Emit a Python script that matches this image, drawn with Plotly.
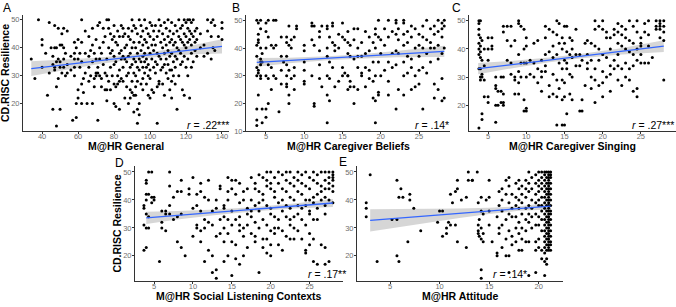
import plotly.graph_objects as go

# ---------------- data ----------------
A_GROUPS = [(34,[36]),(36,[29]),(38,[50]),(40,[43,41,33]),(42,[38]),(43,[23]),(44,[49,31]),(45,[40]),
 (46,[18,37,34]),(47,[48,40,33,32]),(48,[12,40,35,26]),(49,[47,36,29]),(50,[18,41,35,33]),(51,[45,41,31]),
 (52,[47,40,36,33]),(53,[38,30]),(54,[46,34,31]),(56,[37,32]),(57,[14]),(58,[42,38,36,33,30]),(59,[40,20,15]),
 (60,[43,36,25,22]),(61,[38,33]),(62,[50,42,35,20,27]),(63,[29,24]),(64,[46,38,31]),(65,[20]),(66,[44,37,33,28]),
 (67,[39,30]),(68,[47,41,35,20]),(69,[38,29,26]),(70,[43,36,31,30]),(71,[14,48,33,31]),(72,[49,40,36,30]),
 (73,[38,29,26]),(74,[47,42,34]),(75,[44,31,25]),(76,[50,36,30,25,21]),(77,[50,47,40,28]),(78,[45,38,33,25]),
 (79,[43,39,30]),(80,[48,44,37,34,27,20]),(81,[42,35,26,19]),(82,[46,41,30,27]),(83,[44,38,32,28,18]),
 (84,[48,39,36,29]),(85,[47,44,37,33,28]),(86,[45,40,36,22]),(87,[41,35,30,26]),(88,[47,44,37,31,20]),
 (89,[43,38,33,25,22]),(90,[50,46,40,34,28,24]),(91,[48,42,36,31,23,17]),(92,[47,40,35,30,26,23]),
 (93,[45,38,33,28,18,13]),(94,[50,42,36,32,20,16]),(95,[48,44,39,35,27]),(96,[46,41,37,33,29,25]),
 (97,[50,43,38,31,35]),(98,[47,42,36,33,27]),(99,[45,40,34,30,23]),(100,[49,44,38,32,29,22]),(101,[48,41,36,25]),
 (102,[46,43,39,33,24]),(103,[48,41,35,31]),(104,[44,38,34,26,13]),(105,[50,46,37,28,27]),(106,[48,42,36,32]),
 (107,[45,40,33,27]),(108,[49,43,38,34,23]),(109,[47,41,36,31]),(110,[50,44,39,34,29]),(111,[46,42,37,32,25]),
 (112,[49,43,38,32,28,22]),(113,[45,41,35,30]),(114,[48,42,37,33,27]),(115,[46,40,36,18]),(116,[50,44,39,30]),
 (117,[47,43,38,34]),(118,[48,42,35,25]),(119,[50,45,41,37,23]),(120,[49,44,40,33]),(121,[50,47,42,36,30]),
 (122,[50,46,43,22]),(123,[49,45,41,38,33]),(124,[50,44,35]),(125,[46,42,39]),(126,[47,43,37]),(128,[45,40]),
 (130,[41,37]),(132,[50,46,38]),(134,[49,44,36]),(135,[50,40]),(136,[48,39]),(138,[44]),(140,[49,47,43])]

B_GROUPS = [(3.8,[50,41,37,33,30,18,14,12]),(4.0,[49,45,43,42,32,31,23]),(4.3,[50,47,40,36,35,34,30,29]),
 (4.5,[38,35,18,13]),(5.0,[49,46,40,30,18,15]),(5.3,[50,44,34,29,20]),(5.7,[41,33,25]),(6.0,[50,40,30]),
 (6.3,[50,41,29]),(6.7,[17]),(7.0,[44,37,32,27]),(7.3,[35]),(7.7,[44,42,37,34,30,27,26]),(8.0,[48,41,32,23,20]),
 (8.3,[43,40,29]),(8.7,[44,33,30,25]),(9.0,[48,47]),(10.0,[41,39,35,32,28,27]),(11.0,[49,48,43,30]),
 (11.3,[48,41,19,20]),(12.0,[46,44,39,34,29]),(12.3,[48,26]),(13.0,[48,47,40,37,30,23,13]),(13.3,[44,35,29,21]),
 (13.7,[49,48,42,33]),(14.0,[41,39,26]),(14.5,[45,40,28]),(15.0,[49,44,33,30]),(15.3,[43,31]),
 (15.7,[46,42,38,30,30,25]),(16.0,[41,37,28,26]),(16.5,[47,43,36,26,20]),(17.0,[47,40,37,33,25]),
 (17.5,[42,37,31,30]),(18.0,[46,38,33,26]),(18.5,[44,39,32,29]),(19.0,[42,35,28,22]),(19.3,[47,45,40,30,21,13]),
 (19.7,[50,44,35,24,23]),(20.0,[43,38,30]),(20.5,[47,41,32]),(21.0,[50,44,35,28,23]),(21.5,[46,38,33]),
 (22.0,[50,49,45,39,34,18]),(22.3,[47,43,38,25]),(23.0,[50,49,45,41,35,30,23]),(23.5,[46,42,37,31]),
 (24.0,[48,44,36,33,25]),(24.5,[47,40,30,26]),(25.0,[45,41,37,32,27]),(25.5,[48,44,40,33,18]),
 (26.0,[50,43,38,31]),(26.5,[47,42,40,35]),(27.0,[48,45,40,27,22]),(27.5,[50,46,41,36,25]),
 (28.0,[49,47,44,38,29,21]),(28.3,[50,48,40,22])]

C_GROUPS = [(3.8,[50,49,47,45,42,40,38,33,12]),(4.0,[50,44,41,39,37,33,30,29]),(4.2,[43,36,31,30,17,15]),
 (4.5,[40,34,29,23]),(5.0,[44,40,36,23,21]),(5.5,[44,41,40]),(6.0,[30,27,26,20,14]),(6.3,[25,20]),
 (6.7,[30,25,21]),(7.0,[48,46,30,24,21,20]),(7.5,[48,43,36]),(8.0,[48,41,35,31]),(8.5,[43,30,29,24]),
 (9.0,[50,49,38,32,28,24]),(9.3,[48,35,30]),(9.7,[47,40,35,22,18]),(10.0,[44,41,35,30,19,18]),(10.5,[36,31]),
 (11.0,[42,35,30]),(11.5,[43,33,28]),(12.0,[36,32,30,25]),(12.5,[48,44,38,34,32]),(13.0,[47,39,27,23]),
 (13.5,[46,41,37,31,24]),(14.0,[50,45,38,29,23,13]),(14.3,[49,42,35,26]),(14.7,[44,40,33,29,22,13]),
 (15.0,[48,42,36,28,23,13]),(15.3,[48,39,35,33,17]),(15.7,[44,38,31,24]),(16.0,[43,40,37,30,22]),
 (16.5,[47,38,34]),(17.0,[38,34,18]),(17.3,[36,22,18]),(17.7,[42,27]),(18.0,[43,38,35,33]),(18.5,[42,36,26,30]),
 (19.0,[50,47,41,33,29,21]),(19.5,[48,40,36,27]),(20.0,[50,47,38,32,28,23]),(20.5,[46,44,37,30]),
 (21.0,[44,40,34,31,25]),(21.5,[47,45,36,33]),(22.0,[49,46,42,38,34,29]),(22.5,[48,45,41,33,27]),
 (23.0,[47,44,40,35,30]),(23.5,[50,43,39,33,29]),(24.0,[48,42,38,34,25]),(24.5,[50,46,40,36,26,23]),
 (25.0,[44,42,41,38,35]),(25.5,[49,46,35]),(26.0,[50,45,41,35]),(26.5,[37]),(27.0,[50,48,47]),
 (27.5,[50,49,48,47,44]),(28.0,[50,48,46,43,29])]

D_GROUPS = [(3.7,[38,37,31,22]),(4.0,[47,46,42,40,35,30,23]),(4.3,[50,42,34,30]),(4.7,[50,41,39]),(5.0,[41,40]),
 (5.7,[18]),(6.0,[36,32,30]),(6.5,[36,35,29]),(7.0,[50,45,38,35]),(7.5,[41,33]),(8.0,[43,34,25]),
 (8.5,[47,43,35,23]),(9.0,[20]),(9.5,[44,42]),(10.0,[48,37,27]),(10.5,[42,38,31,30]),(11.0,[46,43,36,29,25]),
 (11.5,[41,33,30,18]),(12.0,[47,40,32,22]),(12.5,[36,31,20,14]),(13.0,[40,37,27,15,12]),(13.5,[45,44,33,28]),
 (14.0,[38,37,34,30,25,18]),(14.5,[48,43,40,33,28,20]),(15.0,[47,44,36,31,25,13]),(15.5,[47,42,33,24,19]),
 (16.0,[46,39,34,31,29,17]),(16.5,[43,40,30,27,20]),(17.0,[44,37,35,31,23]),(17.5,[48,40,36,34,28]),
 (18.0,[46,44,38,32,27,25]),(18.5,[49,43,39,36,30,14]),(19.0,[48,42,40,33,26,23]),(19.5,[50,47,45,38,31,26,21]),
 (20.0,[50,46,44,37,35,29,24,20]),(20.5,[48,43,41,34,30,28]),(21.0,[50,46,39,33,30,24]),
 (21.5,[49,44,40,36,29,22]),(22.0,[50,47,43,38,34,27]),(22.5,[50,46,41,37,33,31,26]),(23.0,[48,45,40,34,30,26]),
 (23.5,[50,47,43,38,35,29]),(24.0,[49,46,42,37,33,26]),(24.5,[50,45,40,38,31,21,22]),(25.0,[48,44,40,36,35,28,24]),
 (25.5,[50,47,41,39,33,26,18]),(26.0,[49,46,42,37,33,17]),(26.5,[50,45,43,40,24]),(27.0,[50,47,44,41,38,35,23,17]),
 (27.5,[50,48,46,44,40,18]),(28.0,[50,49,48,47,45,43,39])]

E_GROUPS = [(2.6,[39,37,34]),(3.0,[49]),(3.7,[18]),(5.2,[33]),(5.7,[47,33,20]),(5.9,[41,18]),(6.1,[44]),(6.3,[41]),
 (6.8,[25]),(7.0,[42,40]),(7.4,[37]),(8.1,[29]),(9.8,[32]),(10.0,[36]),(10.3,[36,27]),(10.7,[30,28]),(10.9,[32]),
 (11.1,[42,31]),(11.3,[39]),(11.6,[43,31]),(11.8,[47,44,25]),(12.2,[40]),(12.7,[41,23]),(12.9,[50,47]),
 (13.3,[47,47]),(13.8,[50]),(13.9,[39,31,29,28]),(14.0,[33,27]),(14.2,[41,36,30,26,15,12]),(14.4,[35,28,25]),
 (14.7,[40]),(15.0,[47,41,36,31]),(15.3,[25]),(15.8,[34,21,20]),(16.0,[43,38,30,28]),(16.3,[44,40,36,31,23]),
 (16.7,[47,42,33,26,20]),(17.0,[48,45,39,35,29,20,14]),(17.3,[42,37,34,27,24]),(17.7,[46,41,38,34,30,25]),
 (18.0,[47,44,40,37,32,28,22]),(18.3,[45,42,39,35,30,26,22]),(18.7,[47,44,41,37,33,29,25]),
 (19.0,[50,46,43,38,35,32,25,13]),(19.3,[48,44,40,37,34,30]),(19.7,[49,46,42,39,35,31,25,22,14]),
 (20.0,[50,47,45,43,40,38,34,31,26,23]),(20.3,[50,48,46,44,41,38,36,33,29,22,19]),
 (20.6,[50,49,47,45,43,41,39,37,35,33,31,29,27,25,23,21,18,13]),
 (20.8,[50,48,46,44,42,40,38,36,34,32,30,28,26,24,22,19,17]),
 (21.0,[50,49,48,47,46,45,44,43,42,41,40,39,38,37,36,35,34,33,32,31,30,29,28,27,26,25,24,23,22]),
 (21.2,[50,49,48,46,44,42,40,38,36,35,33,31,29,27,25,24,22])]

# fitted lines with confidence band
A_FIT_X = [34, 50, 70, 90, 110, 125, 140]
A_FIT_Y = [32.5, 33.7, 35.2, 36.7, 38.2, 39.4, 40.5]
A_HALF = [2.65, 1.9, 1.2, 0.9, 1.15, 1.7, 2.55]
B_FIT_X = [3.8, 8, 13, 17, 22, 28.3]
B_FIT_Y = [34.8, 35.5, 36.3, 36.9, 37.8, 38.8]
B_HALF = [1.6, 1.0, 0.75, 0.75, 1.1, 2.0]
C_FIT_X = [3.7, 8, 13, 17, 22, 28]
C_FIT_Y = [33.0, 34.4, 36.1, 37.4, 39.0, 41.0]
C_HALF = [2.0, 1.3, 0.85, 0.8, 1.1, 2.1]
D_FIT_X = [4, 8, 13, 18, 23, 28]
D_FIT_Y = [33.6, 34.5, 35.6, 36.7, 37.8, 38.9]
D_HALF = [2.2, 1.5, 0.95, 0.75, 0.9, 1.4]
E_FIT_X = [3, 6, 9, 12, 15, 18, 21.2]
E_FIT_Y = [32.7, 33.5, 34.4, 35.2, 36.1, 36.9, 37.8]
E_HALF = [4.0, 3.2, 2.4, 1.7, 1.1, 0.8, 1.2]

X_TITLES = ["M@HR General", "M@HR Caregiver Beliefs", "M@HR Caregiver Singing",
            "M@HR Social Listening Contexts", "M@HR Attitude"]
R_LABELS = ["<i>r</i> = .22***", "<i>r</i> = .14*", "<i>r</i> = .27***", "<i>r</i> = .17**", "<i>r</i> = .14*"]
PANEL_LETTERS = ["A", "B", "C", "D", "E"]
Y_TITLE = "CD.RISC Resilience"

# ---------------- layout geometry (pixels) ----------------
W, H = 676, 307
panels = [
    dict(groups=A_GROUPS, fx=A_FIT_X, fy=A_FIT_Y, hw=A_HALF, px=(23, 229), py=(15, 133),
         xr=[29.4, 143.9], yr=[10.1, 51.8], xt=[40, 60, 80, 100, 120, 140], yt=[20, 30, 40, 50],
         letter=(7, 0), rpos=(231, 127), ytx=5),
    dict(groups=B_GROUPS, fx=B_FIT_X, fy=B_FIT_Y, hw=B_HALF, px=(246, 450), py=(15, 133),
         xr=[2.39, 29.05], yr=[9.95, 52.0], xt=[5, 10, 15, 20, 25], yt=[10, 20, 30, 40, 50],
         letter=(236, 0), rpos=(451, 127), ytx=None),
    dict(groups=C_GROUPS, fx=C_FIT_X, fy=C_FIT_Y, hw=C_HALF, px=(469, 676), py=(15, 133),
         xr=[2.5, 29.6], yr=[10.8, 52.1], xt=[5, 10, 15, 20, 25], yt=[20, 30, 40, 50],
         letter=(456, 0), rpos=(676, 127), ytx=None),
    dict(groups=D_GROUPS, fx=D_FIT_X, fy=D_FIT_Y, hw=D_HALF, px=(135, 343), py=(168, 285),
         xr=[2.55, 29.3], yr=[10.9, 52.2], xt=[5, 10, 15, 20, 25], yt=[20, 30, 40, 50],
         letter=(119, 157), rpos=(348, 278), ytx=117),
    dict(groups=E_GROUPS, fx=E_FIT_X, fy=E_FIT_Y, hw=E_HALF, px=(357, 563), py=(168, 285),
         xr=[1.67, 22.45], yr=[10.9, 52.2], xt=[5, 10, 15, 20], yt=[20, 30, 40, 50],
         letter=(343, 156), rpos=(529, 278), ytx=None),
]

FONT = "Liberation Sans, Arial, sans-serif"
fig = go.Figure()
layout = dict(width=W, height=H, margin=dict(l=0, r=0, t=0, b=0),
              paper_bgcolor="white", plot_bgcolor="white", showlegend=False,
              font=dict(family=FONT, color="black"))
annotations = []

for i, p in enumerate(panels):
    n = "" if i == 0 else str(i + 1)
    xa, ya = "x" + n, "y" + n
    xs, ys = [], []
    for gx, gys in p["groups"]:
        for gy in gys:
            xs.append(gx)
            ys.append(gy)
    lo = [y - h for y, h in zip(p["fy"], p["hw"])]
    hi = [y + h for y, h in zip(p["fy"], p["hw"])]
    fig.add_trace(go.Scatter(x=p["fx"] + p["fx"][::-1], y=hi + lo[::-1], fill="toself",
                             fillcolor="rgba(153,153,153,0.4)", line=dict(width=0),
                             mode="lines", hoverinfo="skip", xaxis=xa, yaxis=ya))
    fig.add_trace(go.Scatter(x=xs, y=ys, mode="markers",
                             marker=dict(color="black", size=3.0, line=dict(width=0)),
                             xaxis=xa, yaxis=ya))
    fig.add_trace(go.Scatter(x=p["fx"], y=p["fy"], mode="lines",
                             line=dict(color="#3366FF", width=1.3), xaxis=xa, yaxis=ya))

    x0, x1 = p["px"]
    y0, y1 = p["py"]
    axcommon = dict(showgrid=False, zeroline=False, showline=True, linecolor="#333333", linewidth=1,
                    ticks="outside", ticklen=2, tickcolor="#333333", tickwidth=1,
                    tickfont=dict(size=7.5, color="#6E6E6E", family=FONT))
    layout["xaxis" + n] = dict(domain=[x0 / W, x1 / W], range=p["xr"], anchor=ya,
                               tickvals=p["xt"], ticklabelstandoff=-4, **axcommon)
    layout["yaxis" + n] = dict(domain=[1 - y1 / H, 1 - y0 / H], range=p["yr"], anchor=xa,
                               tickvals=p["yt"], ticklabelstandoff=-1, **axcommon)
    annotations.append(dict(text="<b>" + X_TITLES[i] + "</b>", x=(x0 + x1) / 2 / W, y=1 - (y1 + 15) / H,
                            xref="paper", yref="paper", showarrow=False, xanchor="center", yanchor="middle",
                            borderpad=0, font=dict(size=10.5, family=FONT, color="black")))
    if p["ytx"] is not None:
        annotations.append(dict(text="<b>" + Y_TITLE + "</b>", x=p["ytx"] / W, y=1 - (y0 + y1) / 2 / H,
                                xref="paper", yref="paper", showarrow=False, textangle=-90,
                                xanchor="center", yanchor="middle", borderpad=0,
                                font=dict(size=10.5, family=FONT, color="black")))
    lx, ly = p["letter"]
    annotations.append(dict(text=PANEL_LETTERS[i], x=lx / W, y=1 - ly / H, xref="paper", yref="paper",
                            showarrow=False, xanchor="center", yanchor="top", borderpad=0,
                            font=dict(size=12, family=FONT, color="black")))
    rx, ry = p["rpos"]
    annotations.append(dict(text=R_LABELS[i], x=rx / W, y=1 - ry / H, xref="paper", yref="paper",
                            showarrow=False, xanchor="right", yanchor="middle",
                            font=dict(size=10.5, family=FONT, color="black")))

layout["annotations"] = annotations
fig.update_layout(**layout)
fig.write_html("out.html")
